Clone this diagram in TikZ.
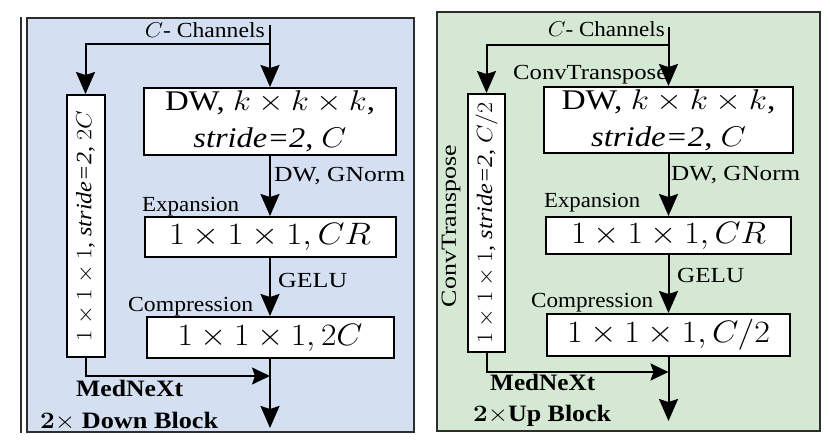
\RequirePackage{fix-cm}
\documentclass[tikz,border=0pt]{standalone}
\usepackage[no-math]{fontspec}
\setmainfont{Liberation Serif}
\usetikzlibrary{arrows.meta}
\definecolor{bluebg}{RGB}{212,224,241}
\definecolor{greenbg}{RGB}{213,232,212}
\definecolor{framec}{RGB}{45,45,45}
\newcommand\fitw[2]{\resizebox{#1}{\height}{#2}}
\tikzset{
 panel/.style={draw=framec, line width=2pt},
 box/.style={draw=black, fill=white, line width=2pt, inner sep=0pt, align=center},
 conn/.style={line width=2pt},
 arr/.style={conn, -{Stealth[length=22pt,width=19pt,inset=3pt]}},
 sarr/.style={conn, -{Stealth[length=18pt,width=17pt,inset=3pt]}},
 lbl/.style={inner sep=0pt, font=\fontsize{21.5}{24}\selectfont},
 blbl/.style={inner sep=0pt, font=\fontsize{23.5}{26}\selectfont\bfseries},
 bigf/.style={font=\fontsize{28.5}{37}\selectfont},
 mathf/.style={font=\fontsize{31}{34}\selectfont},
 sidef/.style={font=\fontsize{22}{26}\selectfont},
}
\begin{document}
\begin{tikzpicture}[x=1pt,y=-1pt]
\useasboundingbox (0,0) rectangle (830,441);
% panels
\draw[panel, fill=bluebg] (27,18) rectangle (414,432);
\draw[line width=1.5pt, framec] (21,17) -- (21,433);
\draw[panel, fill=greenbg] (437,12) rectangle (820,431);

% ---------- left: down block ----------
\node[box, bigf, minimum width=252, minimum height=67] (dw1) at (270,121.5)
  {\fitw{210pt}{DW, $k\times k\times k$,}\\\fitw{153pt}{\textit{stride=2}, $C$}};
\node[box, mathf, minimum width=251, minimum height=40] (exp1) at (270,237)
  {\fitw{202pt}{$1\times 1\times 1, CR$}};
\node[box, mathf, minimum width=247, minimum height=41] (comp1) at (270,337.5)
  {\fitw{185pt}{$1\times 1\times 1, 2C$}};
\node[box, sidef, minimum width=38, minimum height=262] (side1) at (85.5,226)
  {\rotatebox{90}{\fitw{230pt}{$1\times 1\times 1$, \textit{stride=2}, $2C$}}};

\node[lbl, anchor=base east] (ch1) at (265,38) {\fitw{120pt}{$C$- Channels}};
\node[lbl, anchor=base west] (g1) at (274,181) {\fitw{131pt}{DW, GNorm}};
\node[lbl, anchor=base west] (e1) at (142,211) {\fitw{97pt}{Expansion}};
\node[lbl, anchor=base west] (ge1) at (278,287) {\fitw{69pt}{GELU}};
\node[lbl, anchor=base west] (co1) at (128,311) {\fitw{125pt}{Compression}};
\node[blbl, anchor=base west] (m1) at (76,396) {\fitw{107pt}{MedNeXt}};
\node[blbl, anchor=base west] (d1) at (40,428) {\fitw{178pt}{$\mathbf{2}\times$ Down Block}};

\coordinate (in1) at (270,25);
\coordinate (b1) at (270,44);
\coordinate (j1) at (270,376);
\coordinate (out1) at (270,428);
\draw[conn] (in1) -- (b1);
\draw[arr] (b1) -- (dw1.north);
\draw[arr] (b1) -| (side1.north);
\draw[arr] (dw1.south) -- (exp1.north);
\draw[arr] (exp1.south) -- (comp1.north);
\draw[arr] (comp1.south) -- (out1);
\draw[sarr] (side1.south) |- (j1);

% ---------- right: up block ----------
\node[box, bigf, minimum width=249, minimum height=66] (dw2) at (668.5,120)
  {\fitw{214pt}{DW, $k\times k\times k$,}\\\fitw{155pt}{\textit{stride=2}, $C$}};
\node[box, mathf, minimum width=245, minimum height=37] (exp2) at (668.5,235.5)
  {\fitw{195pt}{$1\times 1\times 1, CR$}};
\node[box, mathf, minimum width=243, minimum height=42] (comp2) at (668.5,335)
  {\fitw{203pt}{$1\times 1\times 1, C/2$}};
\node[box, sidef, minimum width=37, minimum height=258] (side2) at (486.5,223)
  {\rotatebox{90}{\fitw{241pt}{$1\times 1\times 1$, \textit{stride=2}, $C/2$}}};

\node[lbl, anchor=base east] (ch2) at (665,37) {\fitw{117pt}{$C$- Channels}};
\node[lbl, anchor=base west] (ct2) at (513,80) {\fitw{154pt}{ConvTranspose}};
\node[lbl] (ctr2) at (451,226) {\rotatebox{90}{\fitw{162pt}{ConvTranspose}}};
\node[lbl, anchor=base west] (g2) at (671,180) {\fitw{129pt}{DW, GNorm}};
\node[lbl, anchor=base west] (e2) at (544,207) {\fitw{96pt}{Expansion}};
\node[lbl, anchor=base west] (ge2) at (677,282) {\fitw{67pt}{GELU}};
\node[lbl, anchor=base west] (co2) at (531,307) {\fitw{122pt}{Compression}};
\node[blbl, anchor=base west] (m2) at (490,390) {\fitw{105pt}{MedNeXt}};
\node[blbl, anchor=base west] (u2) at (473,421) {\fitw{138pt}{$\mathbf{2}\times$Up Block}};

\coordinate (in2) at (668.5,27);
\coordinate (b2) at (668.5,45);
\coordinate (j2) at (668.5,372);
\coordinate (out2) at (668.5,421);
\draw[conn] (in2) -- (b2);
\draw[arr] (b2) -- (dw2.north);
\draw[arr] (b2) -| (side2.north);
\draw[arr] (dw2.south) -- (exp2.north);
\draw[arr] (exp2.south) -- (comp2.north);
\draw[arr] (comp2.south) -- (out2);
\draw[sarr] (side2.south) |- (j2);
\end{tikzpicture}
\end{document}
